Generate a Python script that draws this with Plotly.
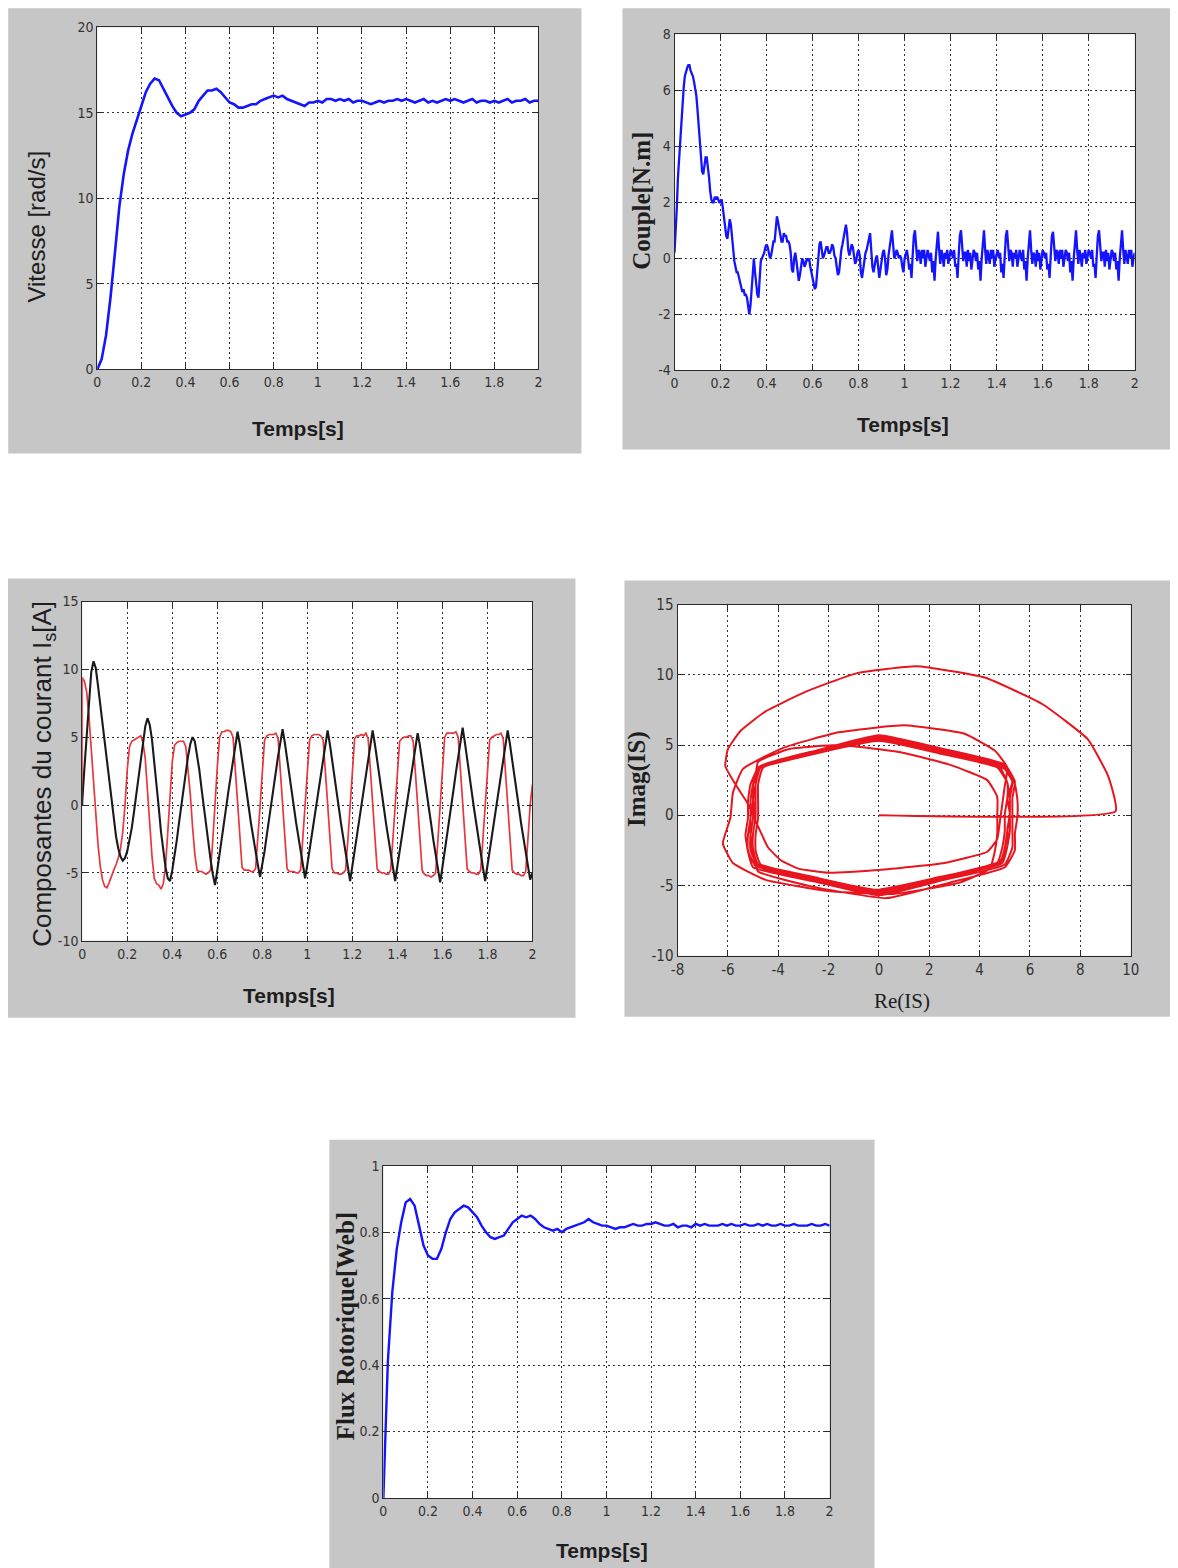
import numpy as np
import plotly.graph_objects as go

# The photographed page shows the figure slightly shrunk and shifted; these factors map
# the reference's pixel positions to figure pixels so that the photo lines up.
SX, SY = 0.986, 0.988
MX, MY = 15.0, 17.0
W, H = 1180, 1570

# ------------------------------------------------------------------ data
# Vitesse [rad/s], sampled every 0.02 s
speed = [
    0.0, 0.6, 2.0, 4.2, 6.8, 9.5, 11.4, 12.8, 13.8, 14.6,
    15.3, 16.2, 16.7, 17.0, 16.9, 16.4, 15.9, 15.4, 15.0, 14.8,
    14.9, 15.0, 15.2, 15.7, 16.0, 16.3, 16.3, 16.4, 16.2, 15.9,
    15.6, 15.5, 15.3, 15.3, 15.4, 15.5, 15.5, 15.7, 15.8, 15.9,
    16.0, 15.9, 16.0, 15.8, 15.7, 15.6, 15.5, 15.4, 15.6, 15.6,
    15.7, 15.6, 15.8, 15.8, 15.7, 15.8, 15.7, 15.8, 15.6, 15.7,
    15.7, 15.6, 15.5, 15.6, 15.7, 15.6, 15.7, 15.7, 15.8, 15.7,
    15.8, 15.7, 15.6, 15.7, 15.8, 15.6, 15.7, 15.6, 15.7, 15.8,
    15.7, 15.8, 15.7, 15.6, 15.7, 15.8, 15.6, 15.7, 15.7, 15.6,
    15.7, 15.6, 15.7, 15.8, 15.6, 15.7, 15.7, 15.8, 15.6, 15.7,
    15.7,
]

# Couple [N.m], sampled every 0.005 s
torque = [
    0.2, 0.9, 1.8, 2.9, 3.6, 4.3, 5.0, 5.7, 6.1, 6.5, 6.7, 6.8, 6.9, 6.9, 6.7, 6.6, 6.5, 6.3, 6.1, 5.8,
    5.3, 4.8, 4.3, 3.6, 3.1, 3.0, 3.3, 3.6, 3.6, 3.3, 2.9, 2.4, 2.1, 2.0, 2.0, 2.2, 2.1, 2.2, 2.1, 2.0,
    2.0, 2.1, 1.8, 1.5, 1.2, 0.8, 0.7, 1.1, 1.4, 1.2, 0.7, 0.4, -0.1, -0.3, -0.5, -0.5, -0.7, -0.9, -1.0, -1.2,
    -1.1, -1.3, -1.3, -1.4, -1.7, -2.0, -1.7, -1.0, -0.4, 0.0, -0.5, -1.0, -1.3, -1.4, -0.8, -0.1, 0.0, 0.1, 0.2, 0.4,
    0.5, 0.4, 0.2, 0.0, 0.1, 0.3, 0.6, 0.6, 1.2, 1.5, 1.3, 1.1, 0.8, 0.6, 0.6, 0.9, 0.8, 0.8, 0.6, 0.6,
    0.5, 0.2, -0.4, -0.5, 0.0, 0.2, -0.1, -0.5, -0.8, -0.6, -0.2, 0.0, -0.1, -0.3, -0.2, 0.0, -0.1, 0.0, -0.3, -0.5,
    -0.6, -0.8, -1.1, -1.0, -0.6, 0.0, 0.5, 0.6, 0.3, 0.0, 0.1, 0.3, 0.4, 0.4, 0.2, 0.2, 0.3, 0.5, 0.4, 0.1,
    0.0, -0.3, -0.6, -0.5, 0.0, 0.3, 0.5, 0.7, 1.0, 1.2, 0.9, 0.3, 0.1, 0.3, 0.5, 0.4, 0.0, -0.2, -0.1, 0.2,
    0.3, 0.1, -0.5, -0.7, -0.4, 0.0, 0.2, 0.3, 0.5, 0.7, 0.9, 0.3, -0.3, -0.5, -0.2, 0.0, 0.1, -0.3, -0.7, -0.4,
    0.0, 0.2, 0.3, 0.0, -0.6, -0.4, 0.1, 0.4, 0.8, 1.0, 0.5, 0.0, 0.1, 0.3, 0.2, 0.0, 0.1, 0.0, -0.3, -0.5,
    0.0, 0.2, 0.3, 0.0, -0.4, -0.2, -0.7, 0.1, 0.8, 1.0, 0.4, -0.1, 0.3, 0.2, -0.2, 0.3, 0.0, 0.3, -0.3, 0.1,
    0.3, 0.1, -0.1, 0.2, -0.5, -0.1, -0.8, 0.0, 0.7, 0.95, 0.3, -0.2, 0.3, 0.1, -0.3, 0.2, 0.0, 0.3, -0.2, 0.0,
    0.3, 0.2, 0.0, 0.3, -0.3, -0.2, -0.7, 0.1, 0.8, 1.0, 0.4, -0.1, 0.2, 0.2, -0.3, 0.3, -0.1, 0.2, -0.4, 0.1,
    0.3, 0.2, -0.1, 0.2, -0.4, -0.1, -0.8, 0.0, 0.7, 1.0, 0.3, -0.2, 0.3, 0.1, -0.2, 0.3, 0.0, 0.3, -0.3, 0.0,
    0.2, 0.3, 0.0, 0.2, -0.5, -0.2, -0.7, 0.1, 0.8, 1.0, 0.4, -0.1, 0.3, 0.2, -0.3, 0.2, 0.0, 0.3, -0.3, 0.1,
    0.3, 0.1, -0.1, 0.3, -0.4, -0.1, -0.8, 0.0, 0.7, 1.0, 0.3, -0.2, 0.2, 0.1, -0.3, 0.3, -0.1, 0.2, -0.4, 0.0,
    0.3, 0.2, 0.0, 0.2, -0.4, -0.2, -0.7, 0.1, 0.8, 0.95, 0.4, -0.1, 0.3, 0.2, -0.2, 0.3, 0.0, 0.3, -0.3, 0.1,
    0.3, 0.2, -0.1, 0.2, -0.5, -0.1, -0.8, 0.0, 0.7, 1.0, 0.3, -0.2, 0.3, 0.1, -0.3, 0.2, 0.0, 0.3, -0.2, 0.0,
    0.3, 0.2, 0.0, 0.3, -0.3, -0.2, -0.7, 0.1, 0.8, 1.0, 0.4, -0.1, 0.2, 0.2, -0.3, 0.3, -0.1, 0.2, -0.4, 0.1,
    0.3, 0.2, -0.1, 0.2, -0.4, -0.1, -0.8, 0.0, 0.7, 1.0, 0.3, -0.2, 0.3, 0.1, -0.2, 0.3, 0.0, 0.3, -0.3, 0.0,
    0.2,
]

# Stator current components: Re(IS) (red) and Imag(IS) (black), every 0.01 s,
# preceded by the initial state (0, 0) at t = 0
is_re = [0.0,
    9.4, 9.1, 8.3, 6.5, 4.2, 1.5, -0.9, -2.9, -4.5, -5.5,
    -6.0, -6.1, -5.7, -5.2, -4.8, -4.4, -3.9, -3.2, -2.0, 0.0,
    2.6, 4.3, 4.7, 4.8, 4.9, 5.0, 5.1, 4.6, 3.4, 1.0,
    -1.6, -3.8, -5.4, -5.8, -5.9, -6.2, -5.8, -4.5, -2.0, 0.6,
    3.2, 4.4, 4.6, 4.7, 4.7, 4.7, 4.3, 2.8, 0.8, -1.6,
    -3.6, -4.8, -4.9, -4.9, -5.0, -5.1, -5.0, -4.8, -2.6, 0.3,
    2.8, 5.0, 5.4, 5.4, 5.5, 5.5, 5.4, 5.0, 2.6, 0.1,
    -2.4, -4.6, -4.8, -4.8, -4.8, -4.9, -4.9, -4.7, -2.6, -0.1,
    2.4, 4.8, 5.1, 5.2, 5.2, 5.2, 5.3, 4.9, 2.5, 0.0,
    -2.5, -4.7, -4.9, -4.9, -4.9, -5.0, -5.0, -4.8, -2.5, 0.0,
    2.5, 4.8, 5.1, 5.2, 5.2, 5.2, 5.1, 4.8, 2.5, 0.1,
    -2.4, -4.7, -5.0, -5.0, -5.1, -5.1, -5.0, -4.8, -2.6, -0.1,
    2.5, 4.9, 5.1, 5.1, 5.2, 5.1, 5.3, 4.9, 2.6, 0.1,
    -2.4, -4.7, -4.9, -5.0, -5.0, -5.1, -5.1, -4.8, -2.5, 0.0,
    2.5, 4.7, 4.9, 5.0, 5.0, 5.1, 5.1, 4.7, 2.4, 0.0,
    -2.5, -4.8, -5.1, -5.2, -5.2, -5.3, -5.2, -5.0, -2.6, 0.0,
    2.6, 5.0, 5.3, 5.3, 5.3, 5.3, 5.4, 5.0, 2.6, 0.0,
    -2.5, -4.7, -4.9, -5.0, -5.0, -5.1, -5.1, -4.8, -2.5, 0.0,
    2.5, 4.8, 5.0, 5.1, 5.2, 5.2, 5.3, 4.9, 2.5, 0.0,
    -2.5, -4.8, -5.0, -5.1, -5.1, -5.2, -5.2, -4.9, -2.5, 0.0,
    1.5,
]
is_im = [0.0,
    0.3, 2.8, 5.4, 7.9, 9.8, 10.6, 10.1, 8.8, 7.4, 6.0,
    4.7, 3.5, 2.2, 0.8, -0.8, -2.3, -3.2, -3.8, -4.1, -3.9,
    -3.4, -2.6, -1.7, -0.5, 0.8, 2.1, 3.4, 4.6, 5.8, 6.4,
    5.9, 4.8, 3.3, 1.6, -0.2, -2.0, -3.4, -4.6, -5.4, -5.6,
    -4.8, -3.8, -2.6, -1.3, 0.0, 1.3, 2.5, 3.6, 4.5, 5.0,
    4.7, 3.8, 2.6, 1.2, -0.2, -1.5, -2.8, -4.0, -5.1, -5.9,
    -4.8, -3.7, -2.5, -1.3, -0.1, 1.1, 2.2, 3.3, 4.4, 5.4,
    4.5, 3.4, 2.2, 1.0, -0.2, -1.4, -2.5, -3.5, -4.4, -5.3,
    -4.4, -3.4, -2.2, -1.0, 0.2, 1.3, 2.5, 3.6, 4.6, 5.6,
    4.6, 3.5, 2.3, 1.1, -0.1, -1.3, -2.4, -3.5, -4.5, -5.4,
    -4.4, -3.3, -2.2, -1.1, 0.0, 1.1, 2.3, 3.4, 4.5, 5.5,
    4.5, 3.4, 2.2, 1.0, -0.2, -1.4, -2.5, -3.6, -4.6, -5.6,
    -4.5, -3.4, -2.2, -1.0, 0.1, 1.2, 2.4, 3.5, 4.5, 5.5,
    4.5, 3.4, 2.2, 1.0, -0.2, -1.4, -2.5, -3.6, -4.6, -5.6,
    -4.5, -3.4, -2.3, -1.1, 0.1, 1.2, 2.3, 3.4, 4.4, 5.3,
    4.4, 3.3, 2.2, 1.0, -0.2, -1.4, -2.6, -3.7, -4.7, -5.7,
    -4.6, -3.5, -2.3, -1.1, 0.1, 1.2, 2.4, 3.6, 4.7, 5.7,
    4.6, 3.5, 2.2, 1.0, -0.2, -1.4, -2.5, -3.6, -4.6, -5.6,
    -4.5, -3.4, -2.3, -1.1, 0.1, 1.2, 2.4, 3.5, 4.5, 5.5,
    4.5, 3.4, 2.2, 1.0, -0.2, -1.4, -2.5, -3.6, -4.6, -5.5,
    -5.0,
]

# Flux Rotorique [Web], every 0.02 s
flux = [
    0.0, 0.41, 0.62, 0.75, 0.83, 0.89, 0.90, 0.88, 0.82, 0.76,
    0.73, 0.72, 0.72, 0.75, 0.80, 0.84, 0.86, 0.87, 0.88, 0.875,
    0.86, 0.845, 0.82, 0.80, 0.785, 0.78, 0.785, 0.79, 0.81, 0.83,
    0.84, 0.85, 0.845, 0.85, 0.84, 0.825, 0.815, 0.81, 0.805, 0.81,
    0.80, 0.81, 0.815, 0.82, 0.825, 0.83, 0.84, 0.83, 0.825, 0.82,
    0.82, 0.815, 0.81, 0.815, 0.815, 0.82, 0.825, 0.82, 0.82, 0.825,
    0.825, 0.83, 0.825, 0.82, 0.82, 0.825, 0.815, 0.82, 0.82, 0.815,
    0.825, 0.82, 0.825, 0.82, 0.82, 0.82, 0.825, 0.82, 0.825, 0.82,
    0.82, 0.825, 0.82, 0.82, 0.825, 0.82, 0.825, 0.82, 0.82, 0.825,
    0.82, 0.82, 0.825, 0.82, 0.82, 0.82, 0.825, 0.82, 0.82, 0.825,
    0.82,
]

time_ticks = [0, 0.2, 0.4, 0.6, 0.8, 1, 1.2, 1.4, 1.6, 1.8, 2]
time_labels = ["0", "0.2", "0.4", "0.6", "0.8", "1", "1.2", "1.4", "1.6", "1.8", "2"]
speed_ticks = [0, 5, 10, 15, 20]
torque_ticks = [-4, -2, 0, 2, 4, 6, 8]
current_ticks = [-10, -5, 0, 5, 10, 15]
re_ticks = [-8, -6, -4, -2, 0, 2, 4, 6, 8, 10]
flux_ticks = [0, 0.2, 0.4, 0.6, 0.8, 1]
flux_labels = ["0", "0.2", "0.4", "0.6", "0.8", "1"]

# sampling grids
t_slow = np.round(np.arange(len(speed)) * 0.02, 3)
t_torque = np.round(np.arange(len(torque)) * 0.005, 4)
t_cur = np.concatenate([[0.0], np.round(np.arange(len(is_re) - 1) * 0.01, 3)])


def lab(vals):
    return [str(v) for v in vals]


# ------------------------------------------------------------------ layout geometry (reference pixels)
PLOTS = {
    1: (97, 27, 538, 369),
    2: (674, 34, 1134, 370),
    3: (82, 601, 532, 940),
    4: (677, 604, 1130, 955),
    5: (383, 1165, 829, 1497),
}
PANELS = [(8, 8, 581, 453), (622, 8, 1178, 449), (5, 578, 575, 1017),
          (624, 580, 1178, 1016), (329, 1139, 874, 1570)]


def px(x):
    return (x / SX - MX) / W


def py(y):
    return 1 - (y / SY - MY) / H


SANS = "Liberation Sans, Arial, sans-serif"
SERIF = "Liberation Serif, Times New Roman, serif"
NARROW = "Liberation Sans Narrow, DejaVu Sans Condensed, Arial Narrow, sans-serif"

fig = go.Figure()

fig.add_trace(go.Scatter(x=t_slow, y=speed, mode="lines", line=dict(color="#1414ff", width=2.6),
                         xaxis="x", yaxis="y", showlegend=False))
fig.add_trace(go.Scatter(x=t_torque, y=torque, mode="lines", line=dict(color="#1414ff", width=2.3),
                         xaxis="x2", yaxis="y2", showlegend=False))
fig.add_trace(go.Scatter(x=t_cur, y=is_re, mode="lines", line=dict(color="#e8373c", width=1.7),
                         xaxis="x3", yaxis="y3", showlegend=False))
fig.add_trace(go.Scatter(x=t_cur, y=is_im, mode="lines", line=dict(color="#1a1a1a", width=2.1),
                         xaxis="x3", yaxis="y3", showlegend=False))
fig.add_trace(go.Scatter(x=is_re, y=is_im, mode="lines",
                         line=dict(color="#e8141e", width=2.0, shape="spline", smoothing=0.4),
                         xaxis="x4", yaxis="y4", showlegend=False))
fig.add_trace(go.Scatter(x=t_slow, y=flux, mode="lines", line=dict(color="#1414ff", width=2.4),
                         xaxis="x5", yaxis="y5", showlegend=False))


def axis_common(tick_size):
    return dict(
        showgrid=True, gridcolor="#333333", gridwidth=1, griddash="2px,3px",
        zeroline=False, showline=True, linecolor="#2a2a2a", linewidth=1, mirror="ticks",
        ticks="inside", ticklen=5, tickcolor="#2a2a2a",
        tickfont=dict(family=NARROW, size=tick_size, color="#333333"),
        fixedrange=True,
    )


specs = {
    1: dict(xr=[0, 2], xt=(time_ticks, time_labels), yr=[0, 20], yt=(speed_ticks, lab(speed_ticks)), fs=14),
    2: dict(xr=[0, 2], xt=(time_ticks, time_labels), yr=[-4, 8], yt=(torque_ticks, lab(torque_ticks)), fs=14),
    3: dict(xr=[0, 2], xt=(time_ticks, time_labels), yr=[-10, 15], yt=(current_ticks, lab(current_ticks)), fs=14),
    4: dict(xr=[-8, 10], xt=(re_ticks, lab(re_ticks)), yr=[-10, 15], yt=(current_ticks, lab(current_ticks)), fs=15),
    5: dict(xr=[0, 2], xt=(time_ticks, time_labels), yr=[0, 1], yt=(flux_ticks, flux_labels), fs=14),
}

layout_axes = {}
for k, (l, t, r, b) in PLOTS.items():
    sp = specs[k]
    sx = "" if k == 1 else str(k)
    xa = axis_common(sp["fs"])
    xa.update(domain=[px(l), px(r)], range=sp["xr"], tickvals=sp["xt"][0], ticktext=sp["xt"][1],
              anchor="y" + sx)
    ya = axis_common(sp["fs"])
    ya.update(domain=[py(b), py(t)], range=sp["yr"], tickvals=sp["yt"][0], ticktext=sp["yt"][1],
              anchor="x" + sx)
    layout_axes["xaxis" + sx] = xa
    layout_axes["yaxis" + sx] = ya

shapes = []
for (l, t, r, b) in PANELS:
    shapes.append(dict(type="rect", xref="paper", yref="paper", x0=px(l), x1=px(r),
                       y0=py(b), y1=py(t), fillcolor="#c6c6c6", line=dict(width=0),
                       layer="below"))
for (l, t, r, b) in PLOTS.values():
    shapes.append(dict(type="rect", xref="paper", yref="paper", x0=px(l), x1=px(r),
                       y0=py(b), y1=py(t), fillcolor="#ffffff", line=dict(width=0),
                       layer="below"))

TITLES = [
    ("<b>Temps[s]</b>", 298, 428, 0, SANS, 21),
    ("Vitesse [rad/s]", 36, 226, -90, SANS, 24),
    ("<b>Temps[s]</b>", 902, 424, 0, SANS, 21),
    ("<b>Couple[N.m]</b>", 641, 200, -90, SERIF, 25),
    ("<b>Temps[s]</b>", 289, 995, 0, SANS, 21),
    ("Composantes du courant I<sub>s</sub>[A]", 43, 773, -90, SANS, 26),
    ("Re(IS)", 901, 1000, 0, SERIF, 21),
    ("<b>Imag(IS)</b>", 636, 778, -90, SERIF, 25),
    ("<b>Temps[s]</b>", 602, 1549, 0, SANS, 21),
    ("<b>Flux Rotorique[Web]</b>", 346, 1325, -90, SERIF, 25),
]
annotations = []
for text, x, y, ang, fam, size in TITLES:
    annotations.append(dict(text=text, x=px(x), y=py(y), xref="paper", yref="paper",
                            xanchor="center", yanchor="middle", textangle=ang, showarrow=False,
                            font=dict(family=fam, size=size, color="#1e1e1e")))

fig.update_layout(
    width=W, height=H, margin=dict(l=0, r=0, t=0, b=0),
    paper_bgcolor="#ffffff", plot_bgcolor="#ffffff",
    showlegend=False, shapes=shapes, annotations=annotations,
    **layout_axes,
)

fig.write_html("out.html")
